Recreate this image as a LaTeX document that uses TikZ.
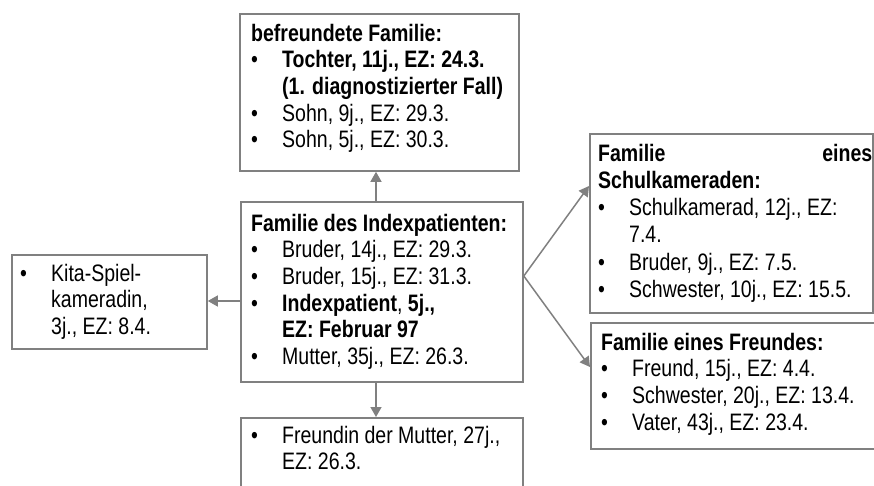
\documentclass[tikz,border=0pt]{standalone}
\usepackage{fontspec}
\setmainfont{Liberation Sans}[FakeStretch=0.82]
\usetikzlibrary{arrows.meta}
\definecolor{linegray}{RGB}{128,128,128}
\newcommand\bu{\makebox[31pt][l]{\textbullet}}
\newcommand\hd[1]{\multicolumn{2}{@{}l@{}}{\textbf{#1}}}
\begin{document}
\begin{tikzpicture}[x=1pt,y=-1pt,
  box/.style={draw=linegray, line width=1.8pt, inner sep=0pt, anchor=north west},
  txt/.style={anchor=base west, inner sep=0pt, align=left, font=\fontsize{23.8}{26.7}\selectfont},
  arr/.style={draw=linegray, line width=1.5pt, -{Triangle[length=10pt,width=11pt]}}]
\useasboundingbox (0,0) rectangle (874,485);
\clip (0,0) rectangle (874,485);
% boxes
\node[box, minimum width=279pt, minimum height=157pt] (top) at (239,13) {};
\node[box, minimum width=282pt, minimum height=180pt] (mid) at (240,201) {};
\node[box, minimum width=195pt, minimum height=94pt] (kita) at (11,254) {};
\node[box, minimum width=283pt, minimum height=179pt] (rtop) at (589,133) {};
\node[box, minimum width=290pt, minimum height=126pt] (rbot) at (590,322) {};
\node[box, minimum width=282pt, minimum height=100pt] (bot) at (240,417) {};
% texts
\node[txt] (ttop) at (251,41) {\begin{tabular}[t]{@{}l@{}l@{}}
\hd{befreundete Familie:}\\
\bu & \textbf{Tochter, 11j., EZ: 24.3.}\\
 & \textbf{(1. diagnostizierter Fall)}\\
\bu & Sohn, 9j., EZ: 29.3.\\
\bu & Sohn, 5j., EZ: 30.3.
\end{tabular}};
\node[txt] (tmid) at (251,231) {\begin{tabular}[t]{@{}l@{}l@{}}
\hd{Familie des Indexpatienten:}\\
\bu & Bruder, 14j., EZ: 29.3.\\
\bu & Bruder, 15j., EZ: 31.3.\\
\bu & \textbf{Indexpatient}, \textbf{5j.,}\\
 & \textbf{EZ: Februar 97}\\
\bu & Mutter, 35j., EZ: 26.3.
\end{tabular}};
\node[txt] (tkita) at (20,281) {\begin{tabular}[t]{@{}l@{}l@{}}
\bu & Kita-Spiel-\\
 & kameradin,\\
 & 3j., EZ: 8.4.
\end{tabular}};
\node[txt, font=\fontsize{23.8}{27.3}\selectfont] (trtop) at (598,161) {\begin{tabular}[t]{@{}l@{}l@{}}
\multicolumn{2}{@{}l@{}}{\makebox[274pt][s]{\textbf{Familie}\hfill\textbf{eines}}}\\
\hd{Schulkameraden:}\\
\bu & Schulkamerad, 12j., EZ:\\
 & 7.4.\\
\bu & Bruder, 9j., EZ: 7.5.\\
\bu & Schwester, 10j., EZ: 15.5.
\end{tabular}};
\node[txt] (trbot) at (601,350) {\begin{tabular}[t]{@{}l@{}l@{}}
\hd{Familie eines Freundes:}\\
\bu & Freund, 15j., EZ: 4.4.\\
\bu & Schwester, 20j., EZ: 13.4.\\
\bu & Vater, 43j., EZ: 23.4.
\end{tabular}};
\node[txt] (tbot) at (251,443) {\begin{tabular}[t]{@{}l@{}l@{}}
\bu & Freundin der Mutter, 27j.,\\
 & EZ: 26.3.
\end{tabular}};
% connectors
\coordinate (ax) at (376,0);
\coordinate (ay) at (0,301);
\coordinate (ry) at (0,276);
\coordinate (t1) at (0,186);
\coordinate (t2) at (0,367);
\draw[arr] (mid.north -| ax) -- (top.south -| ax);
\draw[arr] (mid.south -| ax) -- (bot.north -| ax);
\draw[arr] (mid.west |- ay) -- (kita.east |- ay);
\draw[arr] (mid.east |- ry) -- (rtop.west |- t1);
\draw[arr] (mid.east |- ry) -- (rbot.west |- t2);
\end{tikzpicture}
\end{document}
